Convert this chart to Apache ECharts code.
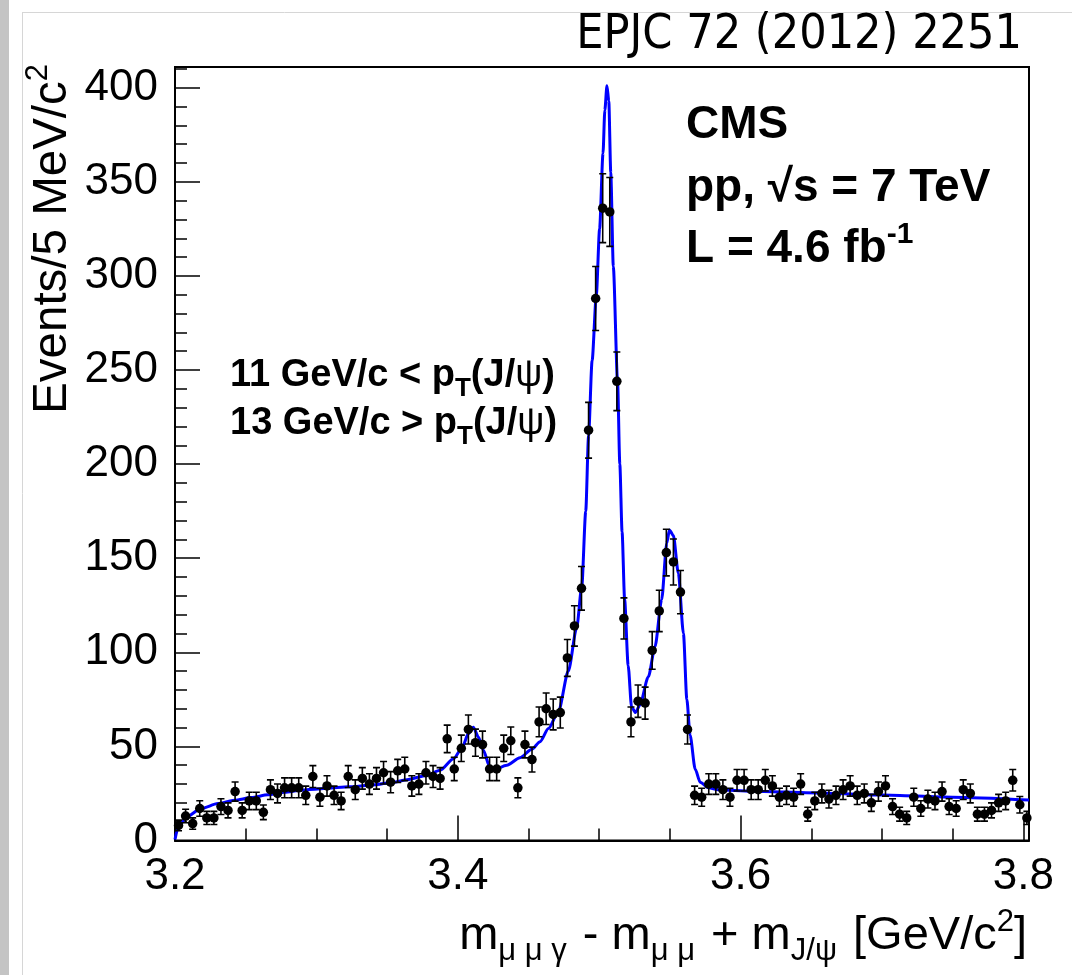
<!DOCTYPE html>
<html><head><meta charset="utf-8">
<script src="https://cdn.jsdelivr.net/npm/echarts@6/dist/echarts.min.js"></script>
<style>html,body{margin:0;padding:0;background:#fff;}#c{width:1072px;height:975px;}</style>
</head><body><div id="c"></div>
<script>
// ---- histogram binning (5 MeV bins) ----
const binStart = 3.2;
const binWidth = 0.005;
// ---- events per bin ----
const counts = [8,13,9,17,12,12,18,16,26,16,21,21,15,27,25,28,28,28,24,34,23,29,24,21,34,
 27,33,30,33,36,31,37,38,29,30,36,34,33,54,38,49,59,52,51,38,38,49,53,28,51,
 43,63,70,67,68,97,114,134,218,288,336,334,244,118,63,74,73,101,122,153,148,132,59,24,23,
 30,30,27,23,32,32,27,27,32,29,23,24,23,30,14,21,25,22,24,27,29,24,25,20,26,
 29,18,14,12,23,17,22,21,26,18,17,27,25,14,14,16,20,21,32,19,12];
const errors = [2.8,3.6,3.0,4.1,3.5,3.5,4.2,4.0,5.1,4.0,4.6,4.6,3.9,5.2,5.0,5.3,5.3,5.3,4.9,5.8,4.8,5.4,4.9,4.6,5.8,
 5.2,5.7,5.5,5.7,6.0,5.6,6.1,6.2,5.4,5.5,6.0,5.8,5.7,7.3,6.2,7.0,7.7,7.2,7.1,6.2,6.2,7.0,7.3,5.3,7.1,
 6.6,7.9,8.4,8.2,8.2,9.8,10.7,11.6,14.8,17.0,18.3,18.3,15.6,10.9,7.9,8.6,8.5,10.0,11.0,12.4,12.2,11.5,7.7,4.9,4.8,
 5.5,5.5,5.2,4.8,5.7,5.7,5.2,5.2,5.7,5.4,4.8,4.9,4.8,5.5,3.7,4.6,5.0,4.7,4.9,5.2,5.4,4.9,5.0,4.5,5.1,
 5.4,4.2,3.7,3.5,4.8,4.1,4.7,4.6,5.1,4.2,4.1,5.2,5.0,3.7,3.7,4.0,4.5,4.6,5.7,4.4,3.5];
// ---- fit curve samples ----
const fitX = [3.2000,3.2020,3.2080,3.2185,3.2303,3.2421,3.2540,3.2657,3.2775,3.2893,3.3010,3.3130,3.3224,3.3403,3.3545,3.3640,3.3780,3.3875,3.3970,3.4029,3.4075,3.4110,3.4146,3.4181,3.4224,3.4252,3.4347,3.4440,3.4523,3.4582,3.4641,3.4712,3.4782,3.4841,3.4877,3.4905,3.4925,3.4950,3.4980,3.5003,3.5027,3.5040,3.5055,3.5068,3.5082,3.5100,3.5130,3.5146,3.5162,3.5180,3.5205,3.5229,3.5257,3.5288,3.5348,3.5395,3.5442,3.5478,3.5497,3.5525,3.5560,3.5596,3.5620,3.5643,3.5679,3.5714,3.5773,3.5843,3.6079,3.6550,3.7000,3.7500,3.8040];
const fitY = [0.5,6.5,12.5,17.0,19.6,21.4,22.8,24.3,25.7,26.7,27.4,28.0,28.5,29.5,31.0,32.3,34.6,37.3,43.4,49.0,56.8,60.2,55.0,47.9,39.5,37.5,40.0,44.0,48.5,52.5,59.5,68.5,90,113,135,175,215,255,290,325,365,388,401,393,355,305,244,200,164,128,93,71,68,72,87,103,128,158,165,162,142,110,75,56,38,31,28,27,26.2,25.3,24.2,23.0,21.5];
// ---- axes ----
const xRange = [3.2, 3.804];
const yRange = [0, 411];
const xMajor = 0.2, xMinor = 0.05, yMajor = 50, yMinor = 10;

const FONT = '"Liberation Sans", Arial, Helvetica, sans-serif';
const FONT_C = '"DejaVu Sans Condensed", "Liberation Sans Narrow", "DejaVu Sans", sans-serif';

const centers = counts.map((c, i) => +(binStart + binWidth * (i + 0.5)).toFixed(4));
const pts = counts.map((c, i) => [centers[i], c]);
const errPts = counts.map((c, i) => [centers[i], c, errors[i]]);
const fitPts = fitX.map((x, i) => [x, fitY[i]]);

// text layout helpers
const mctx = document.createElement('canvas').getContext('2d');
function measure(t, size, weight, fam) { mctx.font = (weight || 'normal') + ' ' + size + 'px ' + fam; return mctx.measureText(t).width; }
function run(segs, startX, base, fam, weight) {
  const out = []; let x = startX;
  segs.forEach(s => {
    const w = measure(s.t, s.size, s.weight || weight, s.fam || fam);
    out.push({type: 'text', x: x, y: base + (s.dy || 0) - 0.31 * s.size, silent: true,
      style: {text: s.t, fontSize: s.size, fontWeight: s.weight || weight, fontFamily: s.fam || fam, fill: '#000',
        align: 'left', verticalAlign: 'middle', textAlign: 'left', textVerticalAlign: 'middle'}});
    x += w + (s.gap || 0);
  });
  return {els: out, width: x - startX};
}
function runRight(segs, endX, base, fam, weight) {
  const probe = run(segs, 0, base, fam, weight);
  return run(segs, endX - probe.width, base, fam, weight).els;
}

const xTitleSegs = [
  {t: 'm', size: 47}, {t: 'μ μ γ', size: 31, dy: 10, gap: 3},
  {t: ' - m', size: 47}, {t: 'μ μ', size: 31, dy: 10, gap: 3},
  {t: ' + m', size: 47}, {t: 'J/ψ', size: 31, dy: 10, gap: 3},
  {t: ' [GeV/c', size: 47}, {t: '2', size: 31, dy: -19}, {t: ']', size: 47}
];
const yTitleSegs = [{t: 'Events/5 MeV/c', size: 47.5}, {t: '2', size: 31, dy: -20}];
const yTitleProbe = run(yTitleSegs, 0, 0, FONT, 'normal');
const yTitleEls = run(yTitleSegs, -yTitleProbe.width, 0, FONT, 'normal').els;

const ptSegs = (lead) => [{t: lead + ' GeV/c ' + (lead === '11' ? '<' : '>') + ' p', size: 38}, {t: 'T', size: 26, dy: 10},
  {t: '(J/', size: 38}, {t: 'ψ', size: 38, weight: 'normal'}, {t: ')', size: 38}];

const graphics = [
  {type: 'rect', shape: {x: 0, y: 0, width: 9, height: 975}, style: {fill: '#c4c4c4'}, silent: true, z: -10},
  {type: 'line', shape: {x1: 22.5, y1: 12, x2: 22.5, y2: 975}, style: {stroke: '#d6d6d6', lineWidth: 1}, silent: true, z: -10},
  {type: 'line', shape: {x1: 22, y1: 12.5, x2: 1072, y2: 12.5}, style: {stroke: '#d6d6d6', lineWidth: 1}, silent: true, z: -10},
  {type: 'text', x: 1022, y: 36, silent: true, style: {text: 'EPJC 72 (2012) 2251', fontSize: 48, fontFamily: FONT_C, fill: '#000',
     align: 'right', verticalAlign: 'middle', textAlign: 'right', textVerticalAlign: 'middle'}},
  ...run([{t: 'CMS', size: 46}], 686, 140, FONT, 'bold').els,
  ...run([{t: 'pp, √s = 7 TeV', size: 46}], 686, 203, FONT, 'bold').els,
  ...run([{t: 'L = 4.6 fb', size: 46}, {t: '-1', size: 30, dy: -20}], 686, 264, FONT, 'bold').els,
  ...run(ptSegs('11'), 230, 387, FONT, 'bold').els,
  ...run(ptSegs('13'), 230, 435, FONT, 'bold').els,
  ...runRight(xTitleSegs, 1027, 951, FONT, 'normal'),
  {type: 'group', x: 68, y: 64, rotation: Math.PI / 2, silent: true, children: yTitleEls}
];

const tickLine = {color: '#000', width: 1.5};
const labelStyle = {color: '#000', fontSize: 44, fontFamily: FONT};
function isMult(v, step) { const r = v / step; return Math.abs(r - Math.round(r)) < 1e-6; }

const option = {
  animation: false,
  backgroundColor: '#ffffff',
  graphic: graphics,
  grid: {left: 175, right: 43, top: 67, bottom: 134.5, show: true, borderColor: '#000', borderWidth: 2, backgroundColor: 'transparent'},
  xAxis: [
    {type: 'value', min: xRange[0], max: xRange[1], interval: xMinor, position: 'bottom',
     axisLine: {show: true, lineStyle: {color: '#000', width: 2}},
     axisTick: {show: true, inside: true, length: 12, lineStyle: tickLine},
     axisLabel: {show: false}, splitLine: {show: false}},
    {type: 'value', min: xRange[0], max: xRange[1], interval: xMajor, position: 'bottom',
     axisLine: {show: false}, axisTick: {show: true, inside: true, length: 25, lineStyle: tickLine},
     axisLabel: Object.assign({show: true, margin: 14, showMinLabel: true, showMaxLabel: false,
       formatter: v => isMult(v, xMajor) ? v.toFixed(1) : ''}, labelStyle),
     splitLine: {show: false}}
  ],
  yAxis: [
    {type: 'value', min: yRange[0], max: yRange[1], interval: yMinor, position: 'left',
     axisLine: {show: true, lineStyle: {color: '#000', width: 2}},
     axisTick: {show: true, inside: true, length: 12, lineStyle: tickLine},
     axisLabel: {show: false}, splitLine: {show: false}},
    {type: 'value', min: yRange[0], max: yRange[1], interval: yMajor, position: 'left',
     axisLine: {show: false}, axisTick: {show: true, inside: true, length: 25, lineStyle: tickLine},
     axisLabel: Object.assign({show: true, margin: 17, showMinLabel: true, showMaxLabel: false,
       formatter: v => isMult(v, yMajor) ? String(Math.round(v)) : ''}, labelStyle),
     splitLine: {show: false}}
  ],
  series: [
    {type: 'line', name: 'fit', xAxisIndex: 0, yAxisIndex: 0, data: fitPts, showSymbol: false, symbol: 'none',
     smooth: 0.25, smoothMonotone: 'x', lineStyle: {color: '#0000ff', width: 3}, z: 3, silent: true, clip: true},
    {type: 'custom', name: 'err', xAxisIndex: 0, yAxisIndex: 0, data: errPts, z: 4, silent: true, clip: true,
     renderItem: function (params, api) {
       const x = api.value(0), y = api.value(1), e = api.value(2);
       const top = api.coord([x, y + e]), bot = api.coord([x, Math.max(0, y - e)]);
       const cw = 3.5;
       const st = {stroke: '#000', lineWidth: 1.6};
       return {type: 'group', children: [
         {type: 'line', shape: {x1: top[0], y1: top[1], x2: bot[0], y2: bot[1]}, style: st},
         {type: 'line', shape: {x1: top[0] - cw, y1: top[1], x2: top[0] + cw, y2: top[1]}, style: st},
         {type: 'line', shape: {x1: bot[0] - cw, y1: bot[1], x2: bot[0] + cw, y2: bot[1]}, style: st}
       ]};
     }},
    {type: 'scatter', name: 'data', xAxisIndex: 0, yAxisIndex: 0, data: pts, symbol: 'circle', symbolSize: 9.5,
     itemStyle: {color: '#000', opacity: 1}, z: 5, silent: true, clip: false}
  ]
};
const chart = echarts.init(document.getElementById('c'), null, {renderer: 'canvas'});
chart.setOption(option);
</script></body></html>
